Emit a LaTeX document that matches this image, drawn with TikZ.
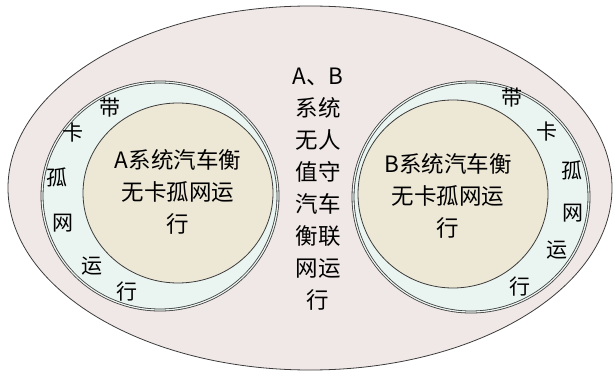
\documentclass[tikz,border=0pt]{standalone}
\usepackage{fontspec}
\newfontfamily\cjk{Noto Sans CJK SC}
\usetikzlibrary{positioning, shapes.geometric}

\definecolor{paper}{RGB}{240,232,230}
\definecolor{ring}{RGB}{234,244,240}
\definecolor{core}{RGB}{237,231,214}
\definecolor{edge}{RGB}{60,60,60}

\begin{document}
\begin{tikzpicture}[
  x=1pt, y=-1pt,
  zone/.style={ellipse, draw=edge, line width=0.8pt, inner sep=0pt},
  label/.style={align=center, font=\cjk\fontsize{22.5}{32}\selectfont, text=black},
  ringch/.style={font=\cjk\fontsize{21}{24}\selectfont, inner sep=0pt}
]
\useasboundingbox (0,0) rectangle (615,374);

% whole system
\node[zone, fill=paper, minimum width=604pt, minimum height=364pt] (sys) at (310,188) {};

% A side
\node[zone, fill=ring, double=ring, double distance=1.2pt,
      minimum width=236pt, minimum height=228pt] (ringA) at (160,196) {};
\node[zone, fill=core, minimum width=190pt, minimum height=180pt] (coreA) at (178,193) {};
\node[label] (txtA) at (178,192) {A系统汽车衡\\无卡孤网运\\行};

% B side
\node[zone, fill=ring, double=ring, double distance=1.2pt,
      minimum width=236pt, minimum height=230pt] (ringB) at (471,197) {};
\node[zone, fill=core, minimum width=190pt, minimum height=188pt] (coreB) at (453,194) {};
\node[label] (txtB) at (448,196) {B系统汽车衡\\无卡孤网运\\行};

% ring texts
\foreach \ch/\px/\py [count=\i] in {带/110/108, 卡/73/133, 孤/57/177, 网/63/223, 运/92/266, 行/127/292}
  \node[ringch] (ra\i) at (\px,\py) {\ch};
\foreach \ch/\px/\py [count=\i] in {带/512/98, 卡/547/132, 孤/572/170, 网/573/213, 运/557/250, 行/520/287}
  \node[ringch] (rb\i) at (\px,\py) {\ch};

% middle
\node[label] (mid) at (318,189) {A、B\\系统\\无人\\值守\\汽车\\衡联\\网运\\行};
\end{tikzpicture}
\end{document}
